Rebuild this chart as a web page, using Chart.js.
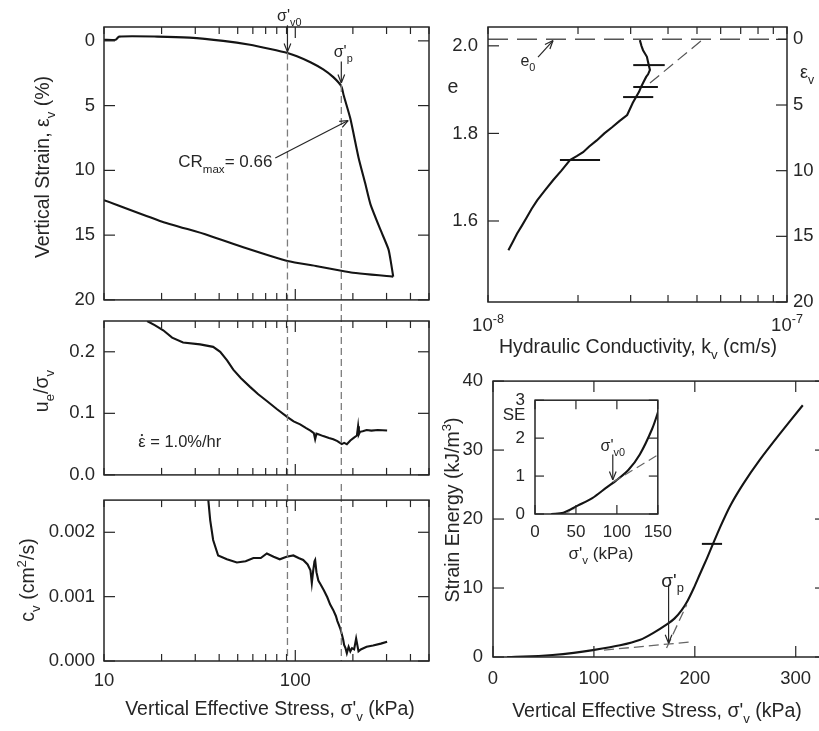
<!DOCTYPE html>
<html>
<head>
<meta charset="utf-8">
<script src="https://cdn.jsdelivr.net/npm/chart.js@4.4.1/dist/chart.umd.min.js"></script>
<style>
html, body { margin: 0; padding: 0; background: #fff; overflow: hidden; }
#wrap { position: relative; width: 819px; height: 731px; overflow: hidden; }
canvas { position: absolute; }
</style>
</head>
<body>
<div id="wrap">
  <canvas id="cStrain" width="440" height="320" style="left:0;top:0"></canvas>
  <canvas id="cPore" width="440" height="195" style="left:0;top:300px"></canvas>
  <canvas id="cCv" width="440" height="251" style="left:0;top:480px"></canvas>
  <canvas id="cPerm" width="379" height="360" style="left:440px;top:0"></canvas>
  <canvas id="cEnergy" width="390" height="371" style="left:440px;top:360px"></canvas>
  <canvas id="cInset" width="180" height="190" style="left:500px;top:380px"></canvas>
</div>
<script>
const FONT = '"Liberation Sans", Arial, Helvetica, sans-serif';
const INK = '#262626';
const GREY = '#7c7c7c';

// compression curve (kPa, %)
const sigmaLoad = [10, 11.5, 12, 19, 28, 42, 58, 74, 91, 102, 120, 140, 158, 174, 179, 194, 214, 232, 247, 279, 307, 317, 325];
const strainLoad = [-0.08, -0.08, -0.33, -0.33, -0.25, 0.0, 0.3, 0.63, 0.94, 1.19, 1.65, 2.2, 2.8, 3.5, 4.2, 6.0, 9.0, 11.0, 12.6, 14.6, 16.1, 17.2, 18.2];
const sigmaUnload = [325, 300, 250, 200, 174, 130, 91, 55, 35, 19.6, 10];
const strainUnload = [18.2, 18.15, 18.05, 17.9, 17.75, 17.4, 17.0, 16.0, 15.0, 13.9, 12.3];

// excess pore pressure ratio
const sigmaPore = [16.8, 18.5, 20.4, 22.7, 25.9, 31.8, 37.2, 40.5, 44, 47.4, 52, 58, 64, 71, 80, 91, 98, 106, 114, 120, 125, 127, 129, 132, 140, 150, 158, 166, 175, 180, 186, 194, 202, 210, 213, 215, 218, 225, 236, 250, 270, 302];
const poreRatio = [0.25, 0.243, 0.235, 0.223, 0.215, 0.212, 0.208, 0.2, 0.186, 0.171, 0.157, 0.143, 0.131, 0.12, 0.107, 0.094, 0.087, 0.082, 0.076, 0.072, 0.068, 0.058, 0.067, 0.066, 0.063, 0.06, 0.058, 0.055, 0.05, 0.052, 0.05, 0.056, 0.06, 0.064, 0.079, 0.066, 0.07, 0.071, 0.073, 0.072, 0.073, 0.072];

// coefficient of consolidation (cm2/s)
const sigmaCv = [35.1, 35.9, 37.2, 39.5, 43.9, 49.5, 55, 60.4, 66, 71, 77, 83, 90, 97.7, 104, 110, 116, 120, 122, 124, 126, 127, 129, 132, 135, 141, 147, 152, 158, 163, 166, 169, 172, 175, 178, 180, 183, 186, 190, 194, 198, 203, 208, 214, 220, 236, 255, 280, 302];
const cvValues = [0.0025, 0.00219, 0.00188, 0.00164, 0.00158, 0.00153, 0.00155, 0.0016, 0.0016, 0.00167, 0.00162, 0.00158, 0.00162, 0.00164, 0.0016, 0.00157, 0.0015, 0.00141, 0.00121, 0.0014, 0.00155, 0.00157, 0.00138, 0.00125, 0.0012, 0.0011, 0.00099, 0.00088, 0.00079, 0.0007, 0.00062, 0.00056, 0.0005, 0.00042, 0.00033, 0.00025, 0.0002, 0.00012, 0.00022, 0.00015, 0.0002, 0.00018, 0.00035, 0.00015, 0.00018, 0.00022, 0.00024, 0.00027, 0.0003];

// void ratio vs hydraulic conductivity
const kPerm = [3.22e-8, 3.26e-8, 3.3e-8, 3.4e-8, 3.43e-8, 3.48e-8, 3.43e-8, 3.38e-8, 3.3e-8, 3.25e-8, 3.2e-8, 3.05e-8, 2.92e-8, 2.75e-8, 2.6e-8, 2.45e-8, 2.31e-8, 2.18e-8, 2.08e-8, 1.98e-8, 1.88e-8, 1.76e-8, 1.65e-8, 1.55e-8, 1.46e-8, 1.4e-8, 1.35e-8, 1.3e-8, 1.25e-8, 1.21e-8, 1.17e-8];
const voidRatio = [2.013, 2.0, 1.99, 1.975, 1.963, 1.945, 1.935, 1.929, 1.915, 1.906, 1.895, 1.87, 1.842, 1.828, 1.814, 1.8, 1.784, 1.77, 1.757, 1.748, 1.739, 1.715, 1.693, 1.67, 1.647, 1.628, 1.609, 1.59, 1.571, 1.552, 1.533];
const barVoid = [1.956, 1.906, 1.883, 1.739];
const barKLo = [3.06e-8, 3.06e-8, 2.83e-8, 1.74e-8];
const barKHi = [3.9e-8, 3.7e-8, 3.57e-8, 2.37e-8];
const E0 = 2.015;

// strain energy (kJ/m3)
const sigmaSE = [14, 30, 59, 80, 99, 126, 146, 159, 173, 180, 187, 193, 199, 205, 212, 218, 225, 235, 248, 264, 284, 307];
const strainEnergy = [0, 0.05, 0.3, 0.6, 1.0, 1.7, 2.5, 3.5, 4.8, 5.6, 6.8, 8.2, 10.0, 12.0, 14.3, 16.4, 18.8, 21.9, 25.1, 28.5, 32.3, 36.5];
const sigmaInset = [19.8, 34.6, 52, 70, 88, 99, 114, 128, 143, 152];
const seInset = [0, 0.03, 0.22, 0.42, 0.71, 0.88, 1.16, 1.57, 2.24, 2.8];

const SIGMA_V0 = 91;
const SIGMA_P = 174;

// tick positions
const logStressTicks = [10, 20, 30, 40, 50, 60, 70, 80, 90, 100, 200, 300, 400, 500];
const strainTicks = [0, 5, 10, 15, 20];
const poreTicks = [0, 0.1, 0.2];
const cvTicks = [0, 0.001, 0.002];
const kTicks = [1e-8, 2e-8, 3e-8, 4e-8, 5e-8, 6e-8, 7e-8, 8e-8, 9e-8, 1e-7];
const voidTicks = [1.6, 1.8, 2.0];
const seStressTicks = [0, 100, 200, 300];
const seTicks = [0, 10, 20, 30, 40];
const insetStressTicks = [0, 50, 100, 150];
const insetSeTicks = [0, 1, 2, 3];

const pts = (xs, ys) => xs.map((x, i) => ({ x: x, y: ys[i] }));

function curve(data, tension) {
  return { data: data, showLine: true, pointRadius: 0, borderColor: '#141414', borderWidth: 2.1, tension: tension || 0, fill: false };
}

function axis(type, min, max, ticks, o) {
  return {
    type: type, min: min, max: max, bounds: 'data',
    reverse: !!o.reverse,
    position: o.position,
    grid: { display: false, drawTicks: false },
    border: { display: false },
    ticks: {
      display: !!o.label,
      font: { family: FONT, size: o.size || 18.5 },
      color: INK,
      padding: o.pad === undefined ? 9 : o.pad,
      autoSkip: false, maxRotation: 0,
      callback: o.label || (() => '')
    },
    afterBuildTicks: s => { s.ticks = ticks.map(v => ({ value: v })); },
    afterFit: s => { if (s.isHorizontal()) s.height = o.fit; else s.width = o.fit; }
  };
}

function base(padding, scales) {
  return {
    responsive: false, animation: false, events: [],
    layout: { padding: padding },
    plugins: { legend: { display: false }, tooltip: { enabled: false } },
    scales: scales
  };
}

function decor(draw) {
  return { id: 'decor', afterDraw(chart) { const ctx = chart.ctx; ctx.save(); draw(chart, ctx); ctx.restore(); } };
}

// box around the plot area plus inward tick marks
function frame(chart, ctx, marks) {
  const a = chart.chartArea;
  ctx.setLineDash([]);
  ctx.strokeStyle = INK;
  ctx.lineWidth = 1.5;
  ctx.strokeRect(a.left, a.top, a.right - a.left, a.bottom - a.top);
  ctx.lineWidth = 1.2;
  marks.forEach(([id, sides, len]) => {
    const s = chart.scales[id];
    s.ticks.forEach(t => {
      const p = s.getPixelForValue(t.value), L = len(t.value);
      sides.forEach(side => {
        ctx.beginPath();
        if (side === 'b') { ctx.moveTo(p, a.bottom); ctx.lineTo(p, a.bottom - L); }
        if (side === 't') { ctx.moveTo(p, a.top); ctx.lineTo(p, a.top + L); }
        if (side === 'l') { ctx.moveTo(a.left, p); ctx.lineTo(a.left + L, p); }
        if (side === 'r') { ctx.moveTo(a.right, p); ctx.lineTo(a.right - L, p); }
        ctx.stroke();
      });
    });
  });
}

function P(chart, xv, yv, yid) {
  return [chart.scales.x.getPixelForValue(xv), chart.scales[yid || 'y'].getPixelForValue(yv)];
}

function seg(ctx, p1, p2, color, width, dash) {
  ctx.strokeStyle = color;
  ctx.lineWidth = width;
  ctx.setLineDash(dash || []);
  ctx.beginPath();
  ctx.moveTo(p1[0], p1[1]);
  ctx.lineTo(p2[0], p2[1]);
  ctx.stroke();
  ctx.setLineDash([]);
}

function arrow(ctx, p1, p2) {
  seg(ctx, p1, p2, INK, 1.2);
  const ang = Math.atan2(p2[1] - p1[1], p2[0] - p1[0]);
  ctx.beginPath();
  [0.38, -0.38].forEach(d => {
    ctx.moveTo(p2[0], p2[1]);
    ctx.lineTo(p2[0] - 9 * Math.cos(ang + d), p2[1] - 9 * Math.sin(ang + d));
  });
  ctx.stroke();
}

// text with sub/superscripts; y is the middle of the digits
function rich(ctx, parts, x, y, size, align, rot) {
  ctx.save();
  ctx.translate(x, y);
  if (rot) ctx.rotate(rot);
  ctx.fillStyle = INK;
  ctx.textBaseline = 'alphabetic';
  ctx.textAlign = 'left';
  const fontFor = k => (k === 'sub' || k === 'sup' ? size * 0.68 : size) + 'px ' + FONT;
  let w = 0;
  parts.forEach(([s, k]) => { ctx.font = fontFor(k); w += ctx.measureText(s).width; });
  let cx = align === 'left' ? 0 : align === 'right' ? -w : -w / 2;
  const baseY = size * 0.36;
  parts.forEach(([s, k]) => {
    ctx.font = fontFor(k);
    const dy = k === 'sub' ? size * 0.3 : k === 'sup' ? -size * 0.42 : 0;
    const sw = ctx.measureText(s).width;
    ctx.fillText(s, cx, baseY + dy);
    if (k === 'dot') {
      ctx.beginPath();
      ctx.arc(cx + sw / 2, baseY - size * 0.72, size * 0.07, 0, Math.PI * 2);
      ctx.fill();
    }
    cx += sw;
  });
  ctx.restore();
}

const logLen = v => (v === 100 ? 11 : 7);
const fixed = () => 11;
const stressLabel = v => (v === 10 || v === 100 ? String(v) : '');

function stressLines(chart, ctx, ext) {
  const a = chart.chartArea;
  [SIGMA_V0, SIGMA_P].forEach(s => {
    const x = chart.scales.x.getPixelForValue(s);
    seg(ctx, [x, a.top - ext], [x, a.bottom], GREY, 1.3, [7, 4]);
  });
}

// vertical strain
new Chart(document.getElementById('cStrain'), {
  type: 'scatter',
  data: { datasets: [curve(pts(sigmaLoad, strainLoad), 0.2), curve(pts(sigmaUnload, strainUnload), 0.2)] },
  options: base({ left: 0, right: 11, top: 27, bottom: 16 }, {
    x: axis('logarithmic', 10, 500, logStressTicks, { fit: 0 }),
    y: axis('linear', -1.07, 20, strainTicks, { fit: 104, reverse: true, label: v => String(v) })
  }),
  plugins: [decor((c, ctx) => {
    const a = c.chartArea;
    seg(ctx, P(c, SIGMA_V0, 0.9), [c.scales.x.getPixelForValue(SIGMA_V0), a.bottom], GREY, 1.3, [7, 4]);
    seg(ctx, P(c, SIGMA_P, 3.4), [c.scales.x.getPixelForValue(SIGMA_P), a.bottom], GREY, 1.3, [7, 4]);
    frame(c, ctx, [['x', ['b', 't'], logLen], ['y', ['l', 'r'], fixed]]);
    arrow(ctx, P(c, SIGMA_V0, -1.2), P(c, SIGMA_V0, 0.85));
    arrow(ctx, P(c, SIGMA_P, 1.6), P(c, SIGMA_P, 3.25));
    let p = P(c, 93, -1.98);
    rich(ctx, [['σ\'', ''], ['v0', 'sub']], p[0], p[1], 16, 'center');
    p = P(c, 178, 0.84);
    rich(ctx, [['σ\'', ''], ['p', 'sub']], p[0], p[1], 16, 'center');
    p = P(c, 75.9, 9.3);
    rich(ctx, [['CR', ''], ['max', 'sub'], ['= 0.66', '']], p[0], p[1], 17, 'right');
    arrow(ctx, P(c, 78.6, 9.05), P(c, 189, 6.15));
    rich(ctx, [['Vertical Strain, ε', ''], ['v', 'sub'], [' (%)', '']], 42, 167, 19.5, 'center', -Math.PI / 2);
  })]
});

// excess pore pressure ratio
new Chart(document.getElementById('cPore'), {
  type: 'scatter',
  data: { datasets: [curve(pts(sigmaPore, poreRatio))] },
  options: base({ left: 0, right: 11, top: 21, bottom: 12 }, {
    x: axis('logarithmic', 10, 500, logStressTicks, { fit: 0 }),
    y: axis('linear', 0, 0.25, poreTicks, { fit: 104, label: v => v.toFixed(1) })
  }),
  plugins: [decor((c, ctx) => {
    stressLines(c, ctx, 17);
    frame(c, ctx, [['x', ['b', 't'], logLen], ['y', ['l', 'r'], fixed]]);
    const p = P(c, 15.1, 0.055);
    rich(ctx, [['ε', 'dot'], [' = 1.0%/hr', '']], p[0], p[1], 16.5, 'left');
    rich(ctx, [['u', ''], ['e', 'sub'], ['/σ', ''], ['v', 'sub']], 41, 91, 19.5, 'center', -Math.PI / 2);
  })]
});

// coefficient of consolidation
new Chart(document.getElementById('cCv'), {
  type: 'scatter',
  data: { datasets: [curve(pts(sigmaCv, cvValues))] },
  options: base({ left: 0, right: 11, top: 19, bottom: 0 }, {
    x: axis('logarithmic', 10, 500, logStressTicks, { fit: 70, pad: 9, label: stressLabel }),
    y: axis('linear', 0, 0.0025, cvTicks, { fit: 104, label: v => v.toFixed(3) })
  }),
  plugins: [decor((c, ctx) => {
    stressLines(c, ctx, 16);
    frame(c, ctx, [['x', ['b', 't'], logLen], ['y', ['l', 'r'], fixed]]);
    rich(ctx, [['c', ''], ['v', 'sub'], [' (cm', ''], ['2', 'sup'], ['/s)', '']], 27, 100, 19.5, 'center', -Math.PI / 2);
    rich(ctx, [['Vertical Effective Stress, σ\'', ''], ['v', 'sub'], [' (kPa)', '']], 270, 228, 19.5, 'center');
  })]
});

// void ratio and hydraulic conductivity
new Chart(document.getElementById('cPerm'), {
  type: 'scatter',
  data: { datasets: [curve(pts(kPerm, voidRatio))] },
  options: base({ left: 0, right: 0, top: 27, bottom: 0 }, {
    x: axis('logarithmic', 1e-8, 1e-7, kTicks, { fit: 58 }),
    y: axis('linear', 1.415, 2.043, voidTicks, { fit: 48, pad: 10, label: v => v.toFixed(1) }),
    r: axis('linear', -0.94, 20, strainTicks, { fit: 32, pad: 6, position: 'right', reverse: true, label: v => String(v) })
  }),
  plugins: [decor((c, ctx) => {
    const a = c.chartArea;
    const y0 = c.scales.y.getPixelForValue(E0);
    seg(ctx, [a.left, y0], [a.right, y0], '#555', 1.4, [20, 9]);
    seg(ctx, P(c, 3.48e-8, 1.915), P(c, 5.24e-8, E0), '#555', 1.2, [12, 6]);
    barVoid.forEach((e, i) => seg(ctx, P(c, barKLo[i], e), P(c, barKHi[i], e), '#141414', 2));
    frame(c, ctx, [['x', ['b', 't'], () => 7], ['y', ['l'], fixed], ['r', ['r'], fixed]]);
    let p = P(c, 1.36e-8, 1.967);
    rich(ctx, [['e', ''], ['0', 'sub']], p[0], p[1], 16, 'center');
    arrow(ctx, P(c, 1.47e-8, 1.974), P(c, 1.65e-8, 2.012));
    rich(ctx, [['e', '']], 13, 86, 19.5, 'center');
    rich(ctx, [['ε', ''], ['v', 'sub']], 360, 72, 18, 'left');
    [[1e-8, '-8'], [1e-7, '-7']].forEach(([v, ex]) => {
      rich(ctx, [['10', ''], [ex, 'sup']], c.scales.x.getPixelForValue(v), 324, 18.5, 'center');
    });
    rich(ctx, [['Hydraulic Conductivity, k', ''], ['v', 'sub'], [' (cm/s)', '']], 198, 346, 19.5, 'center');
  })]
});

// strain energy
new Chart(document.getElementById('cEnergy'), {
  type: 'scatter',
  data: { datasets: [curve(pts(sigmaSE, strainEnergy), 0.2)] },
  options: base({ left: 0, right: 4, top: 12, bottom: 0 }, {
    x: axis('linear', 0, 330, seStressTicks, { fit: 74, pad: 11, label: v => String(v) }),
    y: axis('linear', 0, 40, seTicks, { fit: 53, pad: 10, label: v => String(v) })
  }),
  plugins: [decor((c, ctx) => {
    seg(ctx, P(c, 110, 1.0), P(c, 197, 2.2), '#666', 1.3, [10, 5]);
    seg(ctx, P(c, 172, 1.3), P(c, 192, 7.6), '#666', 1.3, [10, 5]);
    seg(ctx, P(c, 207, 16.4), P(c, 227, 16.4), '#141414', 2);
    frame(c, ctx, [['x', ['b', 't'], fixed], ['y', ['l', 'r'], fixed]]);
    arrow(ctx, P(c, SIGMA_P, 10.5), P(c, SIGMA_P, 2.0));
    const p = P(c, 178, 11.2);
    rich(ctx, [['σ\'', ''], ['p', 'sub']], p[0], p[1], 19, 'center');
    rich(ctx, [['Strain Energy (kJ/m', ''], ['3', 'sup'], [')', '']], 12, 150, 19.5, 'center', -Math.PI / 2);
    rich(ctx, [['Vertical Effective Stress, σ\'', ''], ['v', 'sub'], [' (kPa)', '']], 217, 350, 19.5, 'center');
  })]
});

// inset: strain energy at low stress
new Chart(document.getElementById('cInset'), {
  type: 'scatter',
  data: { datasets: [curve(pts(sigmaInset, seInset), 0.3)] },
  options: base({ left: 0, right: 6, top: 12, bottom: 0 }, {
    x: axis('linear', 0, 150, insetStressTicks, { fit: 56, pad: 8, size: 17, label: v => String(v) }),
    y: axis('linear', 0, 3, insetSeTicks, { fit: 35, pad: 10, size: 17, label: v => String(v) })
  }),
  plugins: [decor((c, ctx) => {
    seg(ctx, P(c, 95, 0.84), P(c, 151, 1.57), '#666', 1.2, [9, 5]);
    seg(ctx, P(c, 36, 0), P(c, 48, 0.12), '#999', 1.2, [6, 4]);
    frame(c, ctx, [['x', ['b', 't'], () => 9], ['y', ['l', 'r'], () => 9]]);
    arrow(ctx, P(c, 95, 1.57), P(c, 95, 0.9));
    const p = P(c, 95, 1.82);
    rich(ctx, [['σ\'', ''], ['v0', 'sub']], p[0], p[1], 16, 'center');
    rich(ctx, [['SE', '']], 14, 34, 17, 'center');
    rich(ctx, [['σ\'', ''], ['v', 'sub'], [' (kPa)', '']], 101, 173, 17, 'center');
  })]
});
</script>
</body>
</html>
